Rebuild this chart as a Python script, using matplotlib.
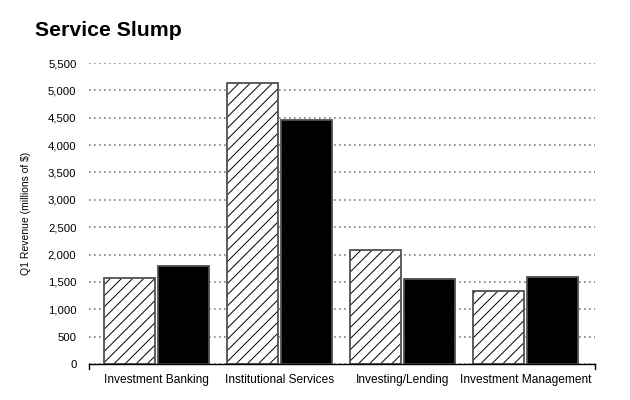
import matplotlib
matplotlib.use("Agg")
import matplotlib.pyplot as plt
import numpy as np

plt.rcParams['font.family'] = ['Liberation Sans', 'DejaVu Sans']
plt.rcParams['hatch.linewidth'] = 0.7

# values (millions of $)
categories = ['Investment Banking', 'Institutional Services',
              'Investing/Lending', 'Investment Management']
hatched_vals = [1575, 5135, 2080, 1330]
black_vals = [1782, 4455, 1550, 1586]
yticks = np.arange(0, 5501, 500)

fig = plt.figure(figsize=(6.3, 4.0), dpi=100)
ax = fig.add_axes([89 / 630, 1 - 364 / 400, (595 - 89) / 630, (364 - 63) / 400])

x = np.arange(len(categories))
w = 0.418
# hatch pass (black lines), then outline pass
ax.bar(x - 0.22, hatched_vals, w, color='white', edgecolor='black',
       linewidth=0, hatch='///', zorder=3)
ax.bar(x - 0.22, hatched_vals, w, fill=False, edgecolor='#505050',
       linewidth=1.3, zorder=4)
ax.bar(x + 0.22, black_vals, w, color='black', edgecolor='#505050',
       linewidth=1.3, zorder=3)

ax.set_xlim(-0.547, 3.565)
ax.set_ylim(0, 5500)
ax.set_yticks(yticks)
ax.set_yticklabels([f'{v:,}' for v in yticks], fontsize=8.2)
ax.set_xticks(x)
ax.set_xticklabels(categories, fontsize=8.6)
ax.tick_params(axis='x', length=0, pad=7)
ax.tick_params(axis='y', length=0, pad=9)

# end ticks on the baseline
for xe in ax.get_xlim():
    ax.plot([xe, xe], [0, -90], color='black', lw=1, clip_on=False, zorder=5)

ax.yaxis.grid(True, linestyle=(0, (1, 2)), color='#808080', linewidth=1.2, zorder=0)
for s in ['top', 'right', 'left']:
    ax.spines[s].set_visible(False)
ax.spines['bottom'].set_color('black')
ax.spines['bottom'].set_linewidth(1)
ax.spines['bottom'].set_zorder(6)

ax.set_ylabel('Q1 Revenue (millions of $)', fontsize=7.5)
ax.yaxis.set_label_coords(-0.114, 0.5)
fig.text(35 / 630, 1 - 30 / 400, 'Service Slump', fontsize=15.3, fontweight='bold',
         va='center', ha='left')

fig.savefig('out.png', dpi=100)
